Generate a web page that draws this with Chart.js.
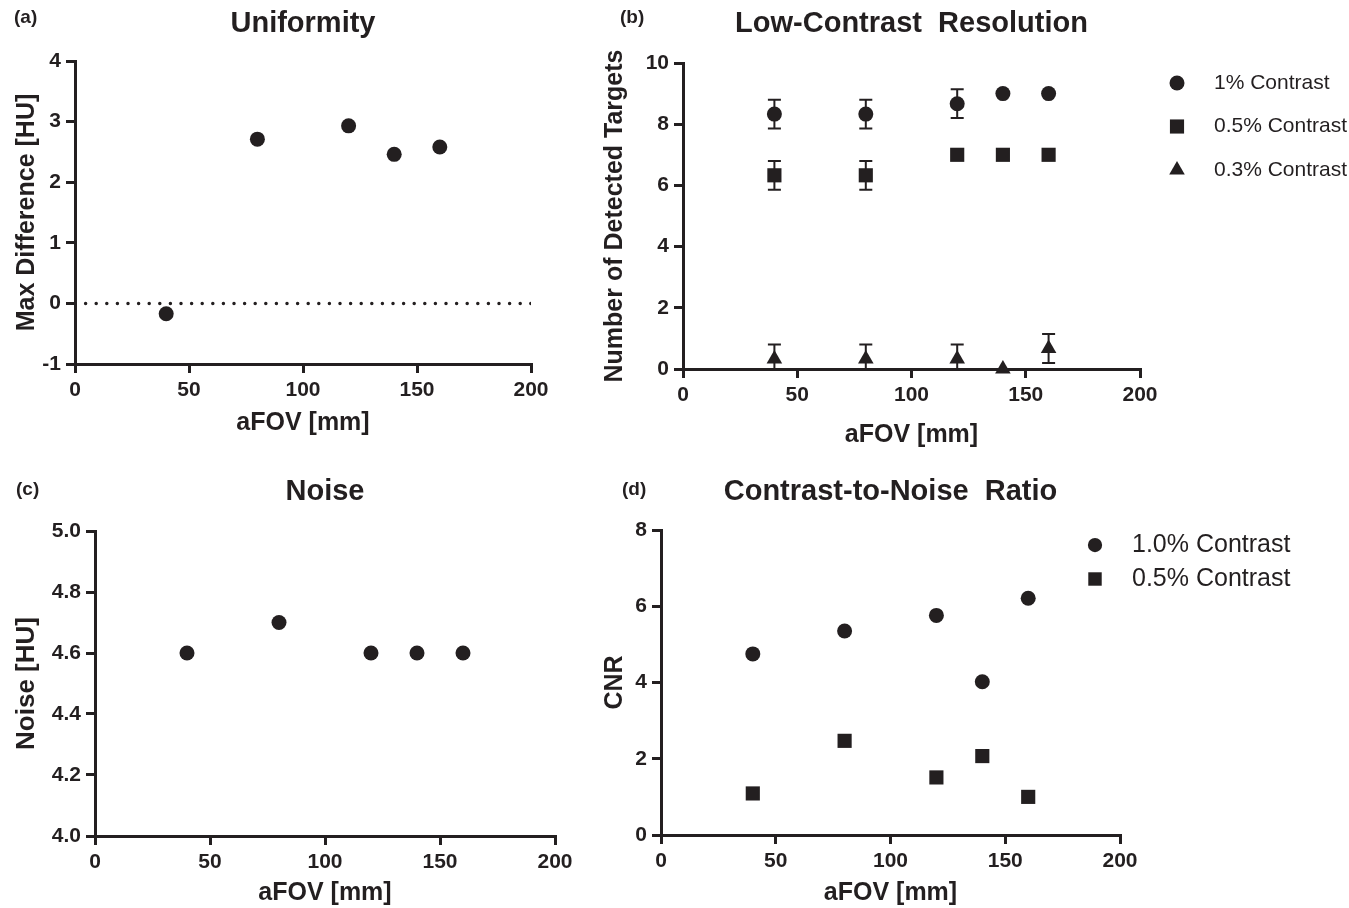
<!DOCTYPE html>
<html>
<head>
<meta charset="utf-8">
<script src="https://cdn.jsdelivr.net/npm/chart.js@4.4.0/dist/chart.umd.min.js"></script>
<style>
  body { margin: 0; background: #fff; width: 1349px; height: 908px; position: relative; overflow: hidden; }
  canvas { position: absolute; }
</style>
</head>
<body>
<canvas id="uniformity_chart" width="580" height="450" style="left:0;top:0"></canvas>
<canvas id="lcr_chart" width="769" height="450" style="left:580px;top:0"></canvas>
<canvas id="noise_chart" width="580" height="458" style="left:0;top:450px"></canvas>
<canvas id="cnr_chart" width="769" height="458" style="left:580px;top:450px"></canvas>
<script>
var FONT = "'Liberation Sans', Arial, Helvetica, sans-serif";
var INK = '#231f20';

// aFOV in mm, same for every panel
var aFov = [40, 80, 120, 140, 160];

// (a) uniformity
var maxDiff = [-0.17, 2.71, 2.93, 2.46, 2.58];
var zeroLineX = [0, 200];

// (b) low-contrast resolution, mean and sd
var lcr1 = [8.33, 8.33, 8.67, 9, 9];
var lcr1Sd = [0.47, 0.47, 0.47, 0, 0];
var lcr05 = [6.33, 6.33, 7, 7, 7];
var lcr05Sd = [0.47, 0.47, 0, 0, 0];
var lcr03 = [0.33, 0.33, 0.33, 0, 0.67];
var lcr03Sd = [0.47, 0.47, 0.47, 0, 0.47];

// (c) noise
var noise = [4.6, 4.7, 4.6, 4.6, 4.6];

// (d) CNR
var cnr10 = [4.75, 5.35, 5.76, 4.02, 6.21];
var cnr05 = [1.09, 2.47, 1.51, 2.07, 1.0];

function pts(ys) {
    return aFov.map(function (x, i) { return { x: x, y: ys[i] }; });
}

function marker(label, ys, style, r, sd) {
    return {
        label: label,
        data: pts(ys),
        sd: sd,
        pointStyle: style,
        pointRadius: r,
        pointHoverRadius: r,
        backgroundColor: INK,
        borderColor: INK,
        borderWidth: 0,
        clip: false
    };
}

var errorBars = {
    id: 'errorBars',
    beforeDatasetsDraw: function (chart) {
        var ctx = chart.ctx, area = chart.chartArea;
        var xs = chart.scales.x, ys = chart.scales.y;
        ctx.save();
        ctx.beginPath();
        ctx.rect(area.left, 0, area.right - area.left, area.bottom - 1);
        ctx.clip();
        ctx.strokeStyle = INK;
        ctx.lineWidth = 2;
        chart.data.datasets.forEach(function (ds) {
            if (!ds.sd) return;
            ds.data.forEach(function (p, i) {
                var sd = ds.sd[i];
                if (!sd) return;
                var x = xs.getPixelForValue(p.x);
                var hi = ys.getPixelForValue(p.y + sd);
                var lo = ys.getPixelForValue(p.y - sd);
                ctx.beginPath();
                ctx.moveTo(x, hi); ctx.lineTo(x, lo);
                ctx.moveTo(x - 6.5, hi); ctx.lineTo(x + 6.5, hi);
                ctx.moveTo(x - 6.5, lo); ctx.lineTo(x + 6.5, lo);
                ctx.stroke();
            });
        });
        ctx.restore();
    }
};

var sideLegend = {
    id: 'sideLegend',
    afterDraw: function (chart, args, opts) {
        if (!opts || !opts.x) return;
        var ctx = chart.ctx;
        ctx.save();
        ctx.fillStyle = INK;
        ctx.strokeStyle = INK;
        ctx.font = opts.fontSize + 'px ' + FONT;
        ctx.textBaseline = 'middle';
        var row = 0;
        chart.data.datasets.forEach(function (ds) {
            if (!ds.label) return;
            var y = opts.y + row * opts.gap;
            Chart.helpers.drawPoint(ctx, {
                pointStyle: ds.pointStyle,
                radius: ds.pointRadius * opts.scale,
                rotation: 0,
                borderWidth: 0
            }, opts.x, y);
            ctx.fillStyle = INK;
            ctx.fillText(ds.label, opts.textX, y);
            row++;
        });
        ctx.restore();
    }
};

var panelTag = {
    id: 'panelTag',
    afterDraw: function (chart, args, opts) {
        if (!opts || !opts.text) return;
        var ctx = chart.ctx;
        ctx.save();
        ctx.fillStyle = INK;
        ctx.font = 'bold 19px ' + FONT;
        ctx.textBaseline = 'middle';
        ctx.fillText(opts.text, opts.x, opts.y);
        ctx.restore();
    }
};

function getConfig(p) {
    var tickFont = { family: FONT, size: 21, weight: 'bold' };
    var grid = { display: true, drawOnChartArea: false, drawTicks: true, tickLength: 9, color: INK, lineWidth: 3 };
    var border = { display: true, color: INK, width: 3 };
    return {
        type: 'scatter',
        data: { datasets: p.datasets },
        plugins: [errorBars, sideLegend, panelTag],
        options: {
            responsive: false,
            animation: false,
            events: [],
            layout: { padding: { left: 0, right: p.padRight, top: 0, bottom: 0 } },
            plugins: {
                legend: { display: false },
                tooltip: { enabled: false },
                title: {
                    display: true, text: p.title, fullSize: false, color: INK,
                    font: { family: FONT, size: 29, weight: 'bold' },
                    padding: { top: p.titleTop, bottom: p.titleBottom }
                },
                panelTag: p.tag,
                sideLegend: p.legend || {}
            },
            scales: {
                x: {
                    type: 'linear', min: 0, max: 200,
                    ticks: { stepSize: 50, color: INK, font: tickFont, padding: 5, maxRotation: 0 },
                    grid: grid, border: border,
                    title: {
                        display: true, text: 'aFOV [mm]', color: INK,
                        font: { family: FONT, size: 25, weight: 'bold' },
                        padding: { top: 0, bottom: p.xTitlePad }
                    },
                    afterFit: function (s) { s.height = p.xHeight; }
                },
                y: {
                    type: 'linear', min: p.yMin, max: p.yMax,
                    ticks: {
                        stepSize: p.yStep, color: INK, font: tickFont, padding: 5,
                        callback: function (v) { return p.yFmt ? v.toFixed(p.yFmt) : v; }
                    },
                    grid: grid, border: border,
                    title: {
                        display: true, text: p.yTitle, color: INK,
                        font: { family: FONT, size: p.yTitleSize, weight: 'bold' },
                        padding: { top: p.yTitlePad, bottom: 0 }
                    },
                    afterFit: function (s) { s.width = p.yWidth; }
                }
            }
        }
    };
}

new Chart(document.getElementById('uniformity_chart').getContext('2d'), getConfig({
    title: 'Uniformity',
    tag: { text: '(a)', x: 14, y: 18 },
    datasets: [
        {
            type: 'line',
            data: zeroLineX.map(function (x) { return { x: x, y: 0 }; }),
            borderColor: INK, borderWidth: 3.5, borderDash: [0, 10.6],
            borderCapStyle: 'round', pointRadius: 0, fill: false
        },
        marker(null, maxDiff, 'circle', 7.5)
    ],
    yMin: -1, yMax: 4, yStep: 1, yTitle: 'Max Difference [HU]', yTitleSize: 25, yTitlePad: 12,
    padRight: 49, yWidth: 75, xHeight: 86, titleTop: 6.6, titleBottom: 19.6, xTitlePad: 12
}));

new Chart(document.getElementById('lcr_chart').getContext('2d'), getConfig({
    title: 'Low-Contrast  Resolution',
    tag: { text: '(b)', x: 40, y: 18 },
    datasets: [
        marker('1% Contrast', lcr1, 'circle', 7.5, lcr1Sd),
        marker('0.5% Contrast', lcr05, 'rect', 10, lcr05Sd),
        marker('0.3% Contrast', lcr03, 'triangle', 9, lcr03Sd)
    ],
    legend: { x: 597, textX: 634, y: 83, gap: 43.5, fontSize: 21, scale: 1 },
    yMin: 0, yMax: 10, yStep: 2, yTitle: 'Number of Detected Targets', yTitleSize: 25, yTitlePad: 20,
    padRight: 209, yWidth: 103, xHeight: 81, titleTop: 6.6, titleBottom: 21.6, xTitlePad: 0
}));

new Chart(document.getElementById('noise_chart').getContext('2d'), getConfig({
    title: 'Noise',
    tag: { text: '(c)', x: 16, y: 40 },
    datasets: [marker(null, noise, 'circle', 7.5)],
    yMin: 4, yMax: 5, yStep: 0.2, yFmt: 1, yTitle: 'Noise [HU]', yTitleSize: 26, yTitlePad: 11.4,
    padRight: 25, yWidth: 95, xHeight: 72, titleTop: 24.6, titleBottom: 21.6, xTitlePad: 0
}));

new Chart(document.getElementById('cnr_chart').getContext('2d'), getConfig({
    title: 'Contrast-to-Noise  Ratio',
    tag: { text: '(d)', x: 42, y: 40 },
    datasets: [
        marker('1.0% Contrast', cnr10, 'circle', 7.5),
        marker('0.5% Contrast', cnr05, 'rect', 10)
    ],
    legend: { x: 515, textX: 552, y: 95, gap: 34, fontSize: 25, scale: 0.95 },
    yMin: 0, yMax: 8, yStep: 2, yTitle: 'CNR', yTitleSize: 25, yTitlePad: 20,
    padRight: 229, yWidth: 81, xHeight: 73, titleTop: 24.6, titleBottom: 20.6, xTitlePad: 0
}));
</script>
</body>
</html>
